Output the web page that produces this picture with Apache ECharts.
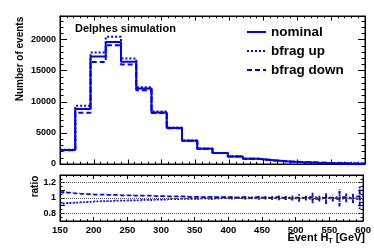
<!DOCTYPE html>
<html><head><meta charset="utf-8">
<script src="https://cdn.jsdelivr.net/npm/echarts@6/dist/echarts.min.js"></script>
<style>html,body{margin:0;padding:0;background:#fff}#c{width:374px;height:252px}</style>
</head><body><div id="c"></div>
<script>
// ---- data ----
const binEdges = [150,172.5,195,217.5,240,262.5,285,307.5,330,352.5,375,397.5,420,442.5,465,487.5,510,532.5,555,577.5,600];
const nominal  = [2250,8850,17300,19600,16450,12150,8300,5800,3750,2460,1770,1220,850,600,410,300,210,150,100,60];
const bfragUp  = [2300,9350,17950,20450,16950,12350,8450,5850,3780,2480,1780,1230,855,602,412,301,211,151,101,61];
const bfragDown= [2200,8250,16400,19100,16000,11850,8200,5750,3720,2450,1760,1215,848,598,408,299,209,149,99,59];

const ratioCenters = [155,165,175,185,195,205,215,225,235,245,255,265,275,285,295,305,315,325,335,345,355,365,375,385,395,405,415,425,435,445,455,465,475,485,495,505,515,525,535,545,555,565,575,585,595];
const ratioDown = [1.075,1.07,1.06,1.055,1.05,1.045,1.045,1.04,1.04,1.035,1.035,1.03,1.03,1.03,1.025,1.025,1.02,1.02,1.02,1.015,1.015,1.01,1.015,1.01,1.01,1.01,1.005,1.01,1.0,1.01,1.005,1.0,1.01,1.0,0.995,1.005,1.0,1.01,0.99,1.0,1.005,0.99,1.01,0.995,1.02];
const ratioUp   = [0.93,0.935,0.94,0.945,0.95,0.955,0.96,0.96,0.965,0.965,0.97,0.97,0.975,0.975,0.98,0.98,0.985,0.985,0.99,0.99,0.99,0.995,0.99,0.995,1.0,0.995,1.0,0.995,1.005,0.995,1.0,1.0,0.995,1.0,1.005,0.995,1.0,0.99,1.005,1.0,0.995,1.01,0.995,1.0,0.985];
const ratioErr  = [0.014,0.006,0.004,0.004,0.004,0.004,0.004,0.004,0.004,0.005,0.005,0.005,0.005,0.006,0.006,0.006,0.007,0.007,0.008,0.008,0.009,0.01,0.01,0.011,0.012,0.013,0.014,0.015,0.016,0.018,0.02,0.022,0.024,0.026,0.028,0.045,0.03,0.06,0.035,0.075,0.04,0.1,0.05,0.06,0.13];
const ratioBinWidth = 10;
const xTicks = [150,200,250,300,350,400,450,500,550,600];
const yTicks = [0,5000,10000,15000,20000];
const ratioTicks = [0.8,1,1.2];
const legendNames = ['nominal','bfrag up','bfrag down'];

// ---- build ----
function stepData(vals){
  const d = vals.map((v,i)=>[binEdges[i], v]);
  d.push([binEdges[binEdges.length-1], vals[vals.length-1]]);
  return d;
}
const FONT = 'Liberation Sans';
const BLUE = '#0000ff';
function ratioRender(dash){
  return function(params, api){
    const x = api.value(0), v = api.value(1), e = api.value(2);
    const h = ratioBinWidth/2;
    const a = api.coord([x-h, v]), b = api.coord([x+h, v]);
    const c = api.coord([x, v-e]), d = api.coord([x, v+e]);
    const st = {stroke: BLUE, lineWidth: 1.8, lineDash: dash, fill: null};
    return {type:'group', children:[
      {type:'line', shape:{x1:a[0],y1:a[1],x2:b[0],y2:b[1]}, style:st},
      {type:'line', shape:{x1:c[0],y1:c[1],x2:d[0],y2:d[1]}, style:st}
    ]};
  };
}
const tickStyle = {color:'#000', width:1};
function xAx(grid, pos, labels, len){
  return {type:'value', gridIndex:grid, position:pos, min:150, max:600, interval:50,
    axisLine:{show:true, onZero:false, lineStyle:{color:'#000', width:1}},
    axisTick:{show:true, inside:true, length:len, lineStyle:tickStyle},
    minorTick:{show:true, splitNumber:5, length:len/2, lineStyle:tickStyle},
    splitLine:{show:false},
    axisLabel:{show:labels, margin:4, fontFamily:FONT, fontWeight:'bold', fontSize:9.5, color:'#000',
      formatter:v=> xTicks.includes(v) ? String(v) : ''}};
}
function yAxMain(pos, labels){
  return {type:'value', gridIndex:0, position:pos, min:0, max:23800, interval:5000,
    axisLine:{show:true, onZero:false, lineStyle:{color:'#000', width:1}},
    axisTick:{show:true, inside:true, length:7, lineStyle:tickStyle},
    minorTick:{show:true, splitNumber:5, length:3.5, lineStyle:tickStyle},
    splitLine:{show:false},
    axisLabel:{show:labels, margin:4, showMaxLabel:false, fontFamily:FONT, fontWeight:'bold', fontSize:9, color:'#000',
      formatter:v=> yTicks.includes(v) ? String(v) : ''}};
}
function yAxRatio(pos, labels){
  return {type:'value', gridIndex:1, position:pos, min:0.7, max:1.3, interval:0.1,
    axisLine:{show:true, onZero:false, lineStyle:{color:'#000', width:1}},
    axisTick:{show:true, inside:true, length:5, lineStyle:tickStyle},
    minorTick:{show:true, splitNumber:2, length:2.5, lineStyle:tickStyle},
    splitLine:{show:false},
    axisLabel:{show:labels, margin:4, showMinLabel:false, showMaxLabel:false, fontFamily:FONT, fontWeight:'bold', fontSize:9, color:'#000',
      formatter:v=>{ const r=Math.round(v*10)/10; return ratioTicks.some(t=>Math.abs(t-r)<1e-6 && Math.abs(v-t)<1e-6) ? String(r) : ''; }}};
}

const legendDash = [[], [2,2], [5,3]];
const legendGraphics = [];
legendNames.forEach((n,i)=>{
  const y = 32 + i*19;
  legendGraphics.push({type:'line', shape:{x1:247,y1:y,x2:266,y2:y}, style:{stroke:BLUE, lineWidth:2, lineDash:legendDash[i]}});
  legendGraphics.push({type:'text', x:271, y:y, style:{text:n, fontFamily:FONT, fontWeight:'bold', fontSize:13.5, fill:'#000', verticalAlign:'middle'}});
});

const chart = echarts.init(document.getElementById('c'), null, {renderer:'canvas'});
chart.setOption({
  animation:false,
  backgroundColor:'#fff',
  grid:[
    {left:60, top:16, width:305, height:148, show:true, borderColor:'#000', borderWidth:1, backgroundColor:'transparent'},
    {left:60, top:175, width:305, height:46, show:true, borderColor:'#000', borderWidth:1, backgroundColor:'transparent'}
  ],
  xAxis:[ xAx(0,'bottom',false,4.5), xAx(0,'top',false,4.5), xAx(1,'bottom',true,4), xAx(1,'top',false,4) ],
  yAxis:[ yAxMain('left',true), yAxMain('right',false), yAxRatio('left',true), yAxRatio('right',false) ],
  series:[
    {name:'nominal', type:'line', step:'end', xAxisIndex:0, yAxisIndex:0, symbol:'none',
      data:stepData(nominal), lineStyle:{color:BLUE, width:2, type:'solid'}, itemStyle:{color:BLUE}, z:4},
    {name:'bfrag up', type:'line', step:'end', xAxisIndex:0, yAxisIndex:0, symbol:'none',
      data:stepData(bfragUp), lineStyle:{color:BLUE, width:2, type:[2,2]}, itemStyle:{color:BLUE}, z:3},
    {name:'bfrag down', type:'line', step:'end', xAxisIndex:0, yAxisIndex:0, symbol:'none',
      data:stepData(bfragDown), lineStyle:{color:BLUE, width:2, type:[5,3]}, itemStyle:{color:BLUE}, z:3},
    {type:'line', xAxisIndex:2, yAxisIndex:2, data:[], silent:true, z:1,
      markLine:{silent:true, symbol:'none', label:{show:false}, animation:false,
        lineStyle:{color:'#555', width:1, type:[1,1]},
        data: ratioTicks.map(t=>({yAxis:t}))}},
    {type:'custom', xAxisIndex:2, yAxisIndex:2, z:3, silent:true,
      data: ratioCenters.map((x,i)=>[x, ratioUp[i], ratioErr[i]]), renderItem: ratioRender([1.5,1.5])},
    {type:'custom', xAxisIndex:2, yAxisIndex:2, z:3, silent:true,
      data: ratioCenters.map((x,i)=>[x, ratioDown[i], ratioErr[i]]), renderItem: ratioRender([3.5,2.5])}
  ],
  graphic:[
    {type:'text', left:75, top:23, style:{text:'Delphes simulation', fontFamily:FONT, fontWeight:'bold', fontSize:11, fill:'#000'}},
    {type:'text', x:20.5, y:59, rotation:Math.PI/2, style:{text:'Number of events', fontFamily:FONT, fontWeight:'bold', fontSize:10, fill:'#000', align:'center', verticalAlign:'middle'}},
    {type:'text', x:35.5, y:186.5, rotation:Math.PI/2, style:{text:'ratio', fontFamily:FONT, fontWeight:'bold', fontSize:10, fill:'#000', align:'center', verticalAlign:'middle'}},
    {type:'text', x:365, y:238, style:{
      text:'{a|Event H}{s|T}{a| [GeV]}', align:'right', verticalAlign:'middle',
      rich:{a:{fontFamily:FONT, fontWeight:'bold', fontSize:11, lineHeight:14, fill:'#000'},
            s:{fontFamily:FONT, fontWeight:'bold', fontSize:7, lineHeight:7, verticalAlign:'bottom', fill:'#000'}}}}
  ].concat(legendGraphics)
});
</script></body></html>
